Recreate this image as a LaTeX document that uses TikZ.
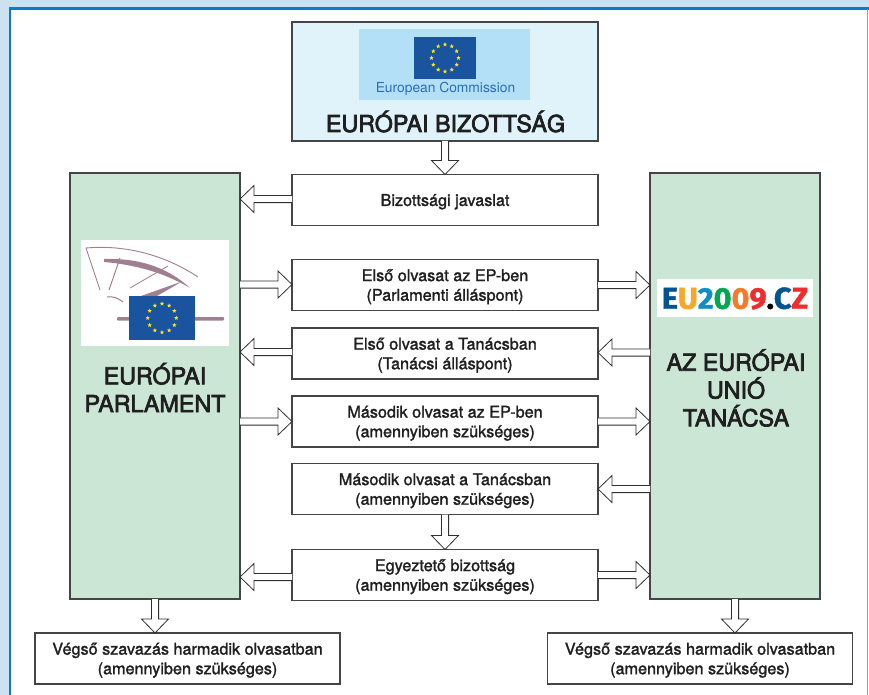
\documentclass[tikz,border=0pt]{standalone}
\usepackage{fontspec}
\setmainfont{TeX Gyre Heros}
\newfontfamily\medfont[FakeBold=1.6]{TeX Gyre Heros}
\newfontfamily\titlefont[FakeBold=3]{TeX Gyre Heros}
\newfontfamily\logofont[FakeBold=1.5]{Fira Sans}
\usetikzlibrary{calc,shapes.geometric}
\newcommand\boxlines[1]{\raisebox{-6.3pt}[0pt][0pt]{\begin{tabular}{@{}c@{}}#1\end{tabular}}}
\definecolor{pagebg}{HTML}{CDE2F0}
\definecolor{framebl}{HTML}{0E7CC4}
\definecolor{framelt}{HTML}{5AAFE6}
\definecolor{edgegray}{HTML}{454545}
\definecolor{arrowgray}{HTML}{303030}
\definecolor{greenfill}{HTML}{CCE6D6}
\definecolor{commfill}{HTML}{E0F3FB}
\definecolor{logofill}{HTML}{B3E0F7}
\definecolor{flagblue}{HTML}{1A549F}
\definecolor{staryellow}{HTML}{FFE81A}
\definecolor{commtext}{HTML}{2A6EB5}
\definecolor{mauve}{HTML}{A07F90}
\definecolor{ezblue}{HTML}{00548F}
\definecolor{ezamber}{HTML}{F9A825}
\definecolor{ezcyan}{HTML}{0A8FCB}
\definecolor{ezgreen}{HTML}{00A651}
\definecolor{ezorange}{HTML}{F47B2A}
\definecolor{ezred}{HTML}{EE2E2E}
\tikzset{
  box/.style={draw=edgegray,line width=1.2pt,fill=white,inner sep=0pt,outer sep=0pt,font=\medfont\fontsize{16.2pt}{19.6pt}\selectfont,text=black!88},
  stepbox/.style={box,minimum width=306pt,minimum height=51pt},
  finalbox/.style={box,minimum width=305pt,minimum height=51pt},
  bigbox/.style={box,fill=greenfill,minimum width=170pt,minimum height=426pt},
  bigtext/.style={inner sep=0pt,align=center,font=\titlefont\fontsize{23.3pt}{27.8pt}\selectfont,text=black!88},
  hollow/.style={draw=arrowgray,line width=0.8pt,fill=white,line join=miter,
    to path={
      ($(\tikztostart)!3.6pt!90:(\tikztotarget)$)
      -- ($(\tikztotarget)!14pt!(\tikztostart)!3.6pt!90:(\tikztotarget)$)
      -- ($(\tikztotarget)!14pt!(\tikztostart)!13.5pt!90:(\tikztotarget)$)
      -- (\tikztotarget)
      -- ($(\tikztotarget)!14pt!(\tikztostart)!13.5pt!-90:(\tikztotarget)$)
      -- ($(\tikztotarget)!14pt!(\tikztostart)!3.6pt!-90:(\tikztotarget)$)
      -- ($(\tikztostart)!3.6pt!-90:(\tikztotarget)$)
    }},
  eustar/.style={star,star points=5,star point ratio=2.4,fill=staryellow,inner sep=0pt,minimum size=4.6pt},
  flag/.style={fill=flagblue,inner sep=0pt,outer sep=0pt},
  whitepatch/.style={fill=white,inner sep=0pt,outer sep=0pt}
}
\begin{document}
\begin{tikzpicture}[x=1pt,y=-1pt]
\useasboundingbox (0,0) rectangle (869,695);
% page frame
\fill[pagebg] (0,0) rectangle (869,695);
\fill[white] (9,7.5) rectangle (868.5,695);
\fill[framebl] (9,7.5) rectangle (11,695);
\fill[framebl] (9,7.3) rectangle (868.5,9.7);
\fill[framelt] (867,9) rectangle (868.4,695);

% boxes
\node[box,fill=commfill,minimum width=306pt,minimum height=119pt] (comm) at (445,81.5) {};
\node[stepbox] (jav) at (445,200) {\boxlines{Bizottsági javaslat}};
\node[stepbox] (ep1) at (445,285) {\boxlines{Első olvasat az EP-ben\\(Parlamenti álláspont)}};
\node[stepbox] (co1) at (445,353.5) {\boxlines{Első olvasat a Tanácsban\\(Tanácsi álláspont)}};
\node[stepbox] (ep2) at (445,421.5) {\boxlines{Második olvasat az EP-ben\\(amennyiben szükséges)}};
\node[stepbox] (co2) at (445,489) {\boxlines{Második olvasat a Tanácsban\\(amennyiben szükséges)}};
\node[stepbox] (con) at (445,575) {\boxlines{Egyeztető bizottság\\(amennyiben szükséges)}};
\node[bigbox] (parl) at (155,386) {};
\node[bigbox] (tan) at (735,386) {};
\node[finalbox] (fl) at (187.5,658.5) {\boxlines{Végső szavazás harmadik olvasatban\\(amennyiben szükséges)}};
\node[finalbox] (fr) at (700,658.5) {\boxlines{Végső szavazás harmadik olvasatban\\(amennyiben szükséges)}};

% commission logo
\node[fill=logofill,minimum width=171pt,minimum height=71pt,inner sep=0pt] (commlogo) at (444.5,64.5) {};
\node[flag,minimum width=62pt,minimum height=42pt] (fc) at (445,58) {};
\foreach \a in {0,30,...,330}
  \node[eustar] (fc\a) at ($(fc.center)+(\a:13.5pt)$) {};
\node[font=\fontsize{13.8pt}{16pt}\selectfont,text=commtext,inner sep=0pt] (commname) at (445.5,89) {European Commission};
\node[anchor=base,font=\titlefont\fontsize{23.3pt}{26pt}\selectfont,text=black!88,inner sep=0pt] (commtitle) at (445.5,132) {EURÓPAI BIZOTTSÁG};

% EP logo
\node[whitepatch,minimum width=148pt,minimum height=106pt] (eplogo) at (155,293) {};
\begin{scope}
\draw[mauve,line width=0.9pt] (100,290) -- (86,248) .. controls (120,245) and (160,252) .. (198,277);
\fill[mauve] (104,259) .. controls (135,258) and (165,265) .. (190,288) .. controls (165,273) and (135,264.5) .. (104,262) -- cycle;
\draw[mauve,line width=1pt] (120,258) -- (109,290);
\draw[mauve,line width=0.8pt] (168,266) -- (130,288);
\fill[mauve] (182,281.5) -- (141,296) -- (157,296) -- cycle;
\draw[mauve,line width=1pt] (107,297) .. controls (113,296) and (118,298) .. (123,302);
\fill[mauve,rounded corners=1pt] (117,317) rectangle (224,320.5);
\end{scope}
\node[flag,minimum width=66pt,minimum height=44pt] (fp) at (162,318) {};
\foreach \a in {0,30,...,330}
  \node[eustar] (fp\a) at ($(fp.center)+(\a:14.3pt)$) {};

% EU2009.CZ logo
\node[whitepatch,minimum width=156pt,minimum height=38pt] (czlogo) at (735,298) {};
\node[inner sep=0pt,xscale=1.02,font=\logofont\bfseries\fontsize{30pt}{32pt}\selectfont] (cztext) at (735,298.5)
  {\textcolor{ezblue}{E}\textcolor{ezamber}{U}\textcolor{ezcyan}{2}\textcolor{ezgreen}{0}\textcolor{ezorange}{0}\textcolor{ezred}{9}\textcolor{black}{.}\textcolor{ezblue}{C}\textcolor{ezred}{Z}};

% big labels
\node[bigtext] (parltext) at (155,387.5) {EURÓPAI\\PARLAMENT};
\node[bigtext] (tantext) at (736,388) {AZ EURÓPAI\\UNIÓ\\TANÁCSA};

% connectors
\draw[hollow] (comm.south) to (jav.north);
\draw[hollow] ([yshift=1pt]jav.west) to ([yshift=1pt]jav.west -| parl.east);
\draw[hollow] ([yshift=.5pt]ep1.west -| parl.east) to ([yshift=.5pt]ep1.west);
\draw[hollow] (ep1.east) to (ep1.east -| tan.west);
\draw[hollow] ([yshift=1pt]co1.east -| tan.west) to ([yshift=1pt]co1.east);
\draw[hollow] ([yshift=1.5pt]co1.west) to ([yshift=1.5pt]co1.west -| parl.east);
\draw[hollow] (ep2.west -| parl.east) to (ep2.west);
\draw[hollow] (ep2.east) to (ep2.east -| tan.west);
\draw[hollow] (co2.east -| tan.west) to (co2.east);
\draw[hollow] (co2.south) to (con.north);
\draw[hollow] ([yshift=-2pt]con.west) to ([yshift=-2pt]con.west -| parl.east);
\draw[hollow] (con.east) to (con.east -| tan.west);
\draw[hollow] (parl.south) to (parl.south |- fl.north);
\draw[hollow] (tan.south) to (tan.south |- fr.north);
\end{tikzpicture}
\end{document}
